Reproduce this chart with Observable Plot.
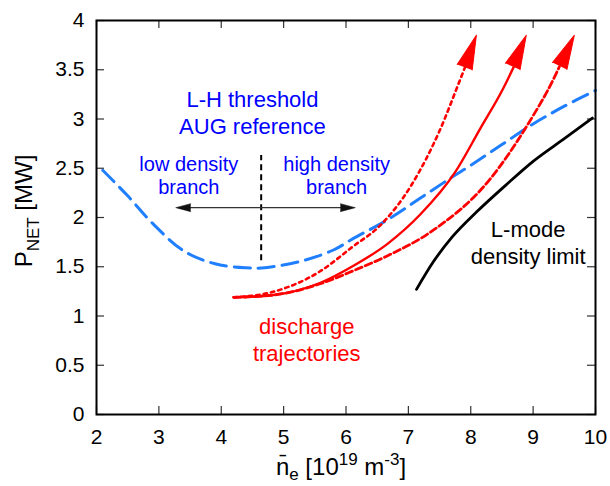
<!DOCTYPE html>
<html>
<head>
<meta charset="utf-8">
<script src="https://cdn.jsdelivr.net/npm/d3@7"></script>
<script src="https://cdn.jsdelivr.net/npm/@observablehq/plot@0.6"></script>
<style>
  html, body { margin: 0; padding: 0; background: #fff; }
  svg { font-family: "Liberation Sans", Arial, Helvetica, sans-serif; }
</style>
</head>
<body>
<script>
// ---- axis ticks ----
const xTicks = [2, 3, 4, 5, 6, 7, 8, 9, 10];
const yTicks = [0, 0.5, 1, 1.5, 2, 2.5, 3, 3.5, 4];

// ---- L-H threshold (AUG reference), blue dashed ----
const lhX = [2.1, 2.5, 2.9, 3.4, 3.9, 4.4, 4.7, 5.3, 5.8, 6.1, 6.7, 7.2, 7.7, 8.0, 8.5, 9.0, 9.5, 10];
const lhY = [2.48, 2.22, 1.94, 1.66, 1.53, 1.49, 1.49, 1.56, 1.67, 1.78, 1.99, 2.20, 2.41, 2.53, 2.74, 2.95, 3.13, 3.29];

// ---- discharge trajectories (red) : curve points end at arrow base ----
const dotX = [4.2, 4.8, 5.6, 6.1, 6.55, 7.05, 7.5, 7.83, 7.93];
const dotY = [1.19, 1.24, 1.46, 1.70, 1.92, 2.33, 2.88, 3.40, 3.56];
const solX = [4.2, 4.8, 5.6, 6.12, 6.66, 7.19, 7.75, 8.15, 8.52, 8.69];
const solY = [1.19, 1.21, 1.34, 1.51, 1.73, 2.03, 2.46, 2.90, 3.31, 3.53];
const dashX = [4.2, 4.8, 5.6, 6.12, 6.66, 7.35, 8.31, 8.91, 9.33, 9.42];
const dashY = [1.19, 1.21, 1.33, 1.46, 1.61, 1.85, 2.39, 2.94, 3.41, 3.53];
// arrow tips
const tipX = [8.09, 8.89, 9.66];
const tipY = [3.85, 3.85, 3.85];

// ---- L-mode density limit (black) ----
const lmX = [7.13, 7.4, 7.7, 8.1, 8.6, 9.0, 9.5, 9.95];
const lmY = [1.27, 1.55, 1.80, 2.06, 2.35, 2.57, 2.80, 3.01];

// ---- branch separators ----
const branchArrowX = [3.27, 6.15];
const branchArrowY = 2.10;
const sepX = 4.64;
const sepY = [1.56, 2.63];

// ---- annotations ----
const labels = [
  {x: 4.5, y: 3.07, text: "L-H threshold\nAUG reference", color: "#0000ff", size: 22, lh: 1.22},
  {x: 3.48, y: 2.43, text: "low density\nbranch", color: "#0000ff", size: 20, lh: 1.17},
  {x: 5.85, y: 2.43, text: "high density\nbranch", color: "#0000ff", size: 20, lh: 1.17},
  {x: 5.37, y: 0.77, text: "discharge\ntrajectories", color: "#ff0000", size: 22, lh: 1.22},
  {x: 8.92, y: 1.75, text: "L-mode\ndensity limit", color: "#000000", size: 22, lh: 1.22}
];

// ---- layout ----
const W = 610, H = 486, mL = 96, mR = 15, mT = 20, mB = 72;
const kx = (W - mL - mR) / (xTicks[xTicks.length - 1] - xTicks[0]);
const ky = (H - mT - mB) / (yTicks[yTicks.length - 1] - yTicks[0]);
const tickLen = 8;

const pts = (xs, ys) => xs.map((x, i) => ({x, y: ys[i]}));
const lh = pts(lhX, lhY);
const dotted = pts(dotX, dotY);
const solid = pts(solX, solY);
const dashed = pts(dashX, dashY);
const lmode = pts(lmX, lmY);

// arrow heads oriented along the final stretch of each curve (screen space)
const heads = [dotted, solid, dashed].map((s, i) => {
  const b = s[s.length - 2];
  const ang = Math.atan2((tipX[i] - b.x) * kx, (tipY[i] - b.y) * ky) * 180 / Math.PI;
  return {x: tipX[i], y: tipY[i], rotate: ang};
});
const branchHeads = [
  {x: branchArrowX[0], y: branchArrowY, rotate: -90},
  {x: branchArrowX[1], y: branchArrowY, rotate: 90}
];

const plot = Plot.plot({
  width: W, height: H,
  marginLeft: mL, marginRight: mR, marginTop: mT, marginBottom: mB,
  style: {fontFamily: "Liberation Sans, Arial, Helvetica, sans-serif", fontSize: "21px", color: "#000", background: "#fff"},
  x: {domain: [xTicks[0], xTicks[xTicks.length - 1]], ticks: xTicks, label: null},
  y: {domain: [yTicks[0], yTicks[yTicks.length - 1]], ticks: yTicks, label: null},
  marks: [
    // inward ticks on all four sides
    Plot.ruleX(xTicks, {x: d => d, y1: yTicks[0], y2: yTicks[0] + tickLen / ky, stroke: "#333", strokeWidth: 1.2}),
    Plot.ruleX(xTicks, {x: d => d, y1: yTicks[yTicks.length - 1] - tickLen / ky, y2: yTicks[yTicks.length - 1], stroke: "#333", strokeWidth: 1.2}),
    Plot.ruleY(yTicks, {y: d => d, x1: xTicks[0], x2: xTicks[0] + tickLen / kx, stroke: "#333", strokeWidth: 1.2}),
    Plot.ruleY(yTicks, {y: d => d, x1: xTicks[xTicks.length - 1] - tickLen / kx, x2: xTicks[xTicks.length - 1], stroke: "#333", strokeWidth: 1.2}),
    Plot.axisX({tickSize: 0, tickPadding: 15, fontSize: 21}),
    Plot.axisY({tickSize: 0, tickPadding: 12, fontSize: 21, tickFormat: d => `${d}`}),

    // branch separator & double arrow
    Plot.ruleX([sepX], {x: d => d, y1: sepY[0], y2: sepY[1], stroke: "#000", strokeWidth: 2, strokeDasharray: "6,4"}),
    Plot.ruleY([branchArrowY], {y: d => d, x1: branchArrowX[0] + 0.1, x2: branchArrowX[1] - 0.1, stroke: "#333", strokeWidth: 1.3}),
    Plot.vector(branchHeads, {x: "x", y: "y", rotate: "rotate", length: 15, r: 4, shape: "spike", anchor: "end", fill: "#111", fillOpacity: 1, stroke: "#111", strokeWidth: 0.5}),

    // curves
    Plot.line(lh, {x: "x", y: "y", stroke: "#1f7fff", strokeWidth: 3, strokeDasharray: "16,8", curve: "catmull-rom"}),
    Plot.line(lmode, {x: "x", y: "y", stroke: "#000", strokeWidth: 2.8, curve: "monotone-x"}),
    Plot.line(dotted, {x: "x", y: "y", stroke: "#ff0000", strokeWidth: 2.6, strokeDasharray: "3.5,4", curve: "monotone-x"}),
    Plot.line(solid, {x: "x", y: "y", stroke: "#ff0000", strokeWidth: 2.4, curve: "monotone-x"}),
    Plot.line(dashed, {x: "x", y: "y", stroke: "#ff0000", strokeWidth: 2.8, strokeDasharray: "7,3.5", curve: "monotone-x"}),
    Plot.vector(heads, {x: "x", y: "y", rotate: "rotate", length: 34, r: 8, shape: "spike", anchor: "end", fill: "#ff0000", fillOpacity: 1, stroke: "#ff0000", strokeWidth: 1}),

    // annotations
    ...labels.map(l => Plot.text([l], {x: "x", y: "y", text: "text", fill: l.color, fontSize: l.size, lineHeight: l.lh, textAnchor: "middle"})),

    Plot.frame({stroke: "#000", strokeWidth: 2})
  ]
});

// axis titles with sub/superscripts
const svg = d3.select(plot);
const ylab = svg.append("text")
  .attr("transform", "translate(32,211) rotate(-90)")
  .attr("text-anchor", "middle")
  .attr("fill", "#000")
  .style("font-size", "24px");
ylab.append("tspan").text("P");
ylab.append("tspan").attr("dy", 7).style("font-size", "17px").text("NET");
ylab.append("tspan").attr("dy", -7).text(" [MW]");

const xlab = svg.append("text")
  .attr("x", 341).attr("y", 475)
  .attr("text-anchor", "middle")
  .attr("fill", "#000")
  .style("font-size", "24px");
xlab.append("tspan").text("n\u0304");
xlab.append("tspan").attr("dy", 5).style("font-size", "17px").text("e");
xlab.append("tspan").attr("dy", -5).text(" [10");
xlab.append("tspan").attr("dy", -10).style("font-size", "17px").text("19");
xlab.append("tspan").attr("dy", 10).text(" m");
xlab.append("tspan").attr("dy", -10).style("font-size", "17px").text("-3");
xlab.append("tspan").attr("dy", 10).text("]");

document.body.append(plot);
</script>
</body>
</html>
